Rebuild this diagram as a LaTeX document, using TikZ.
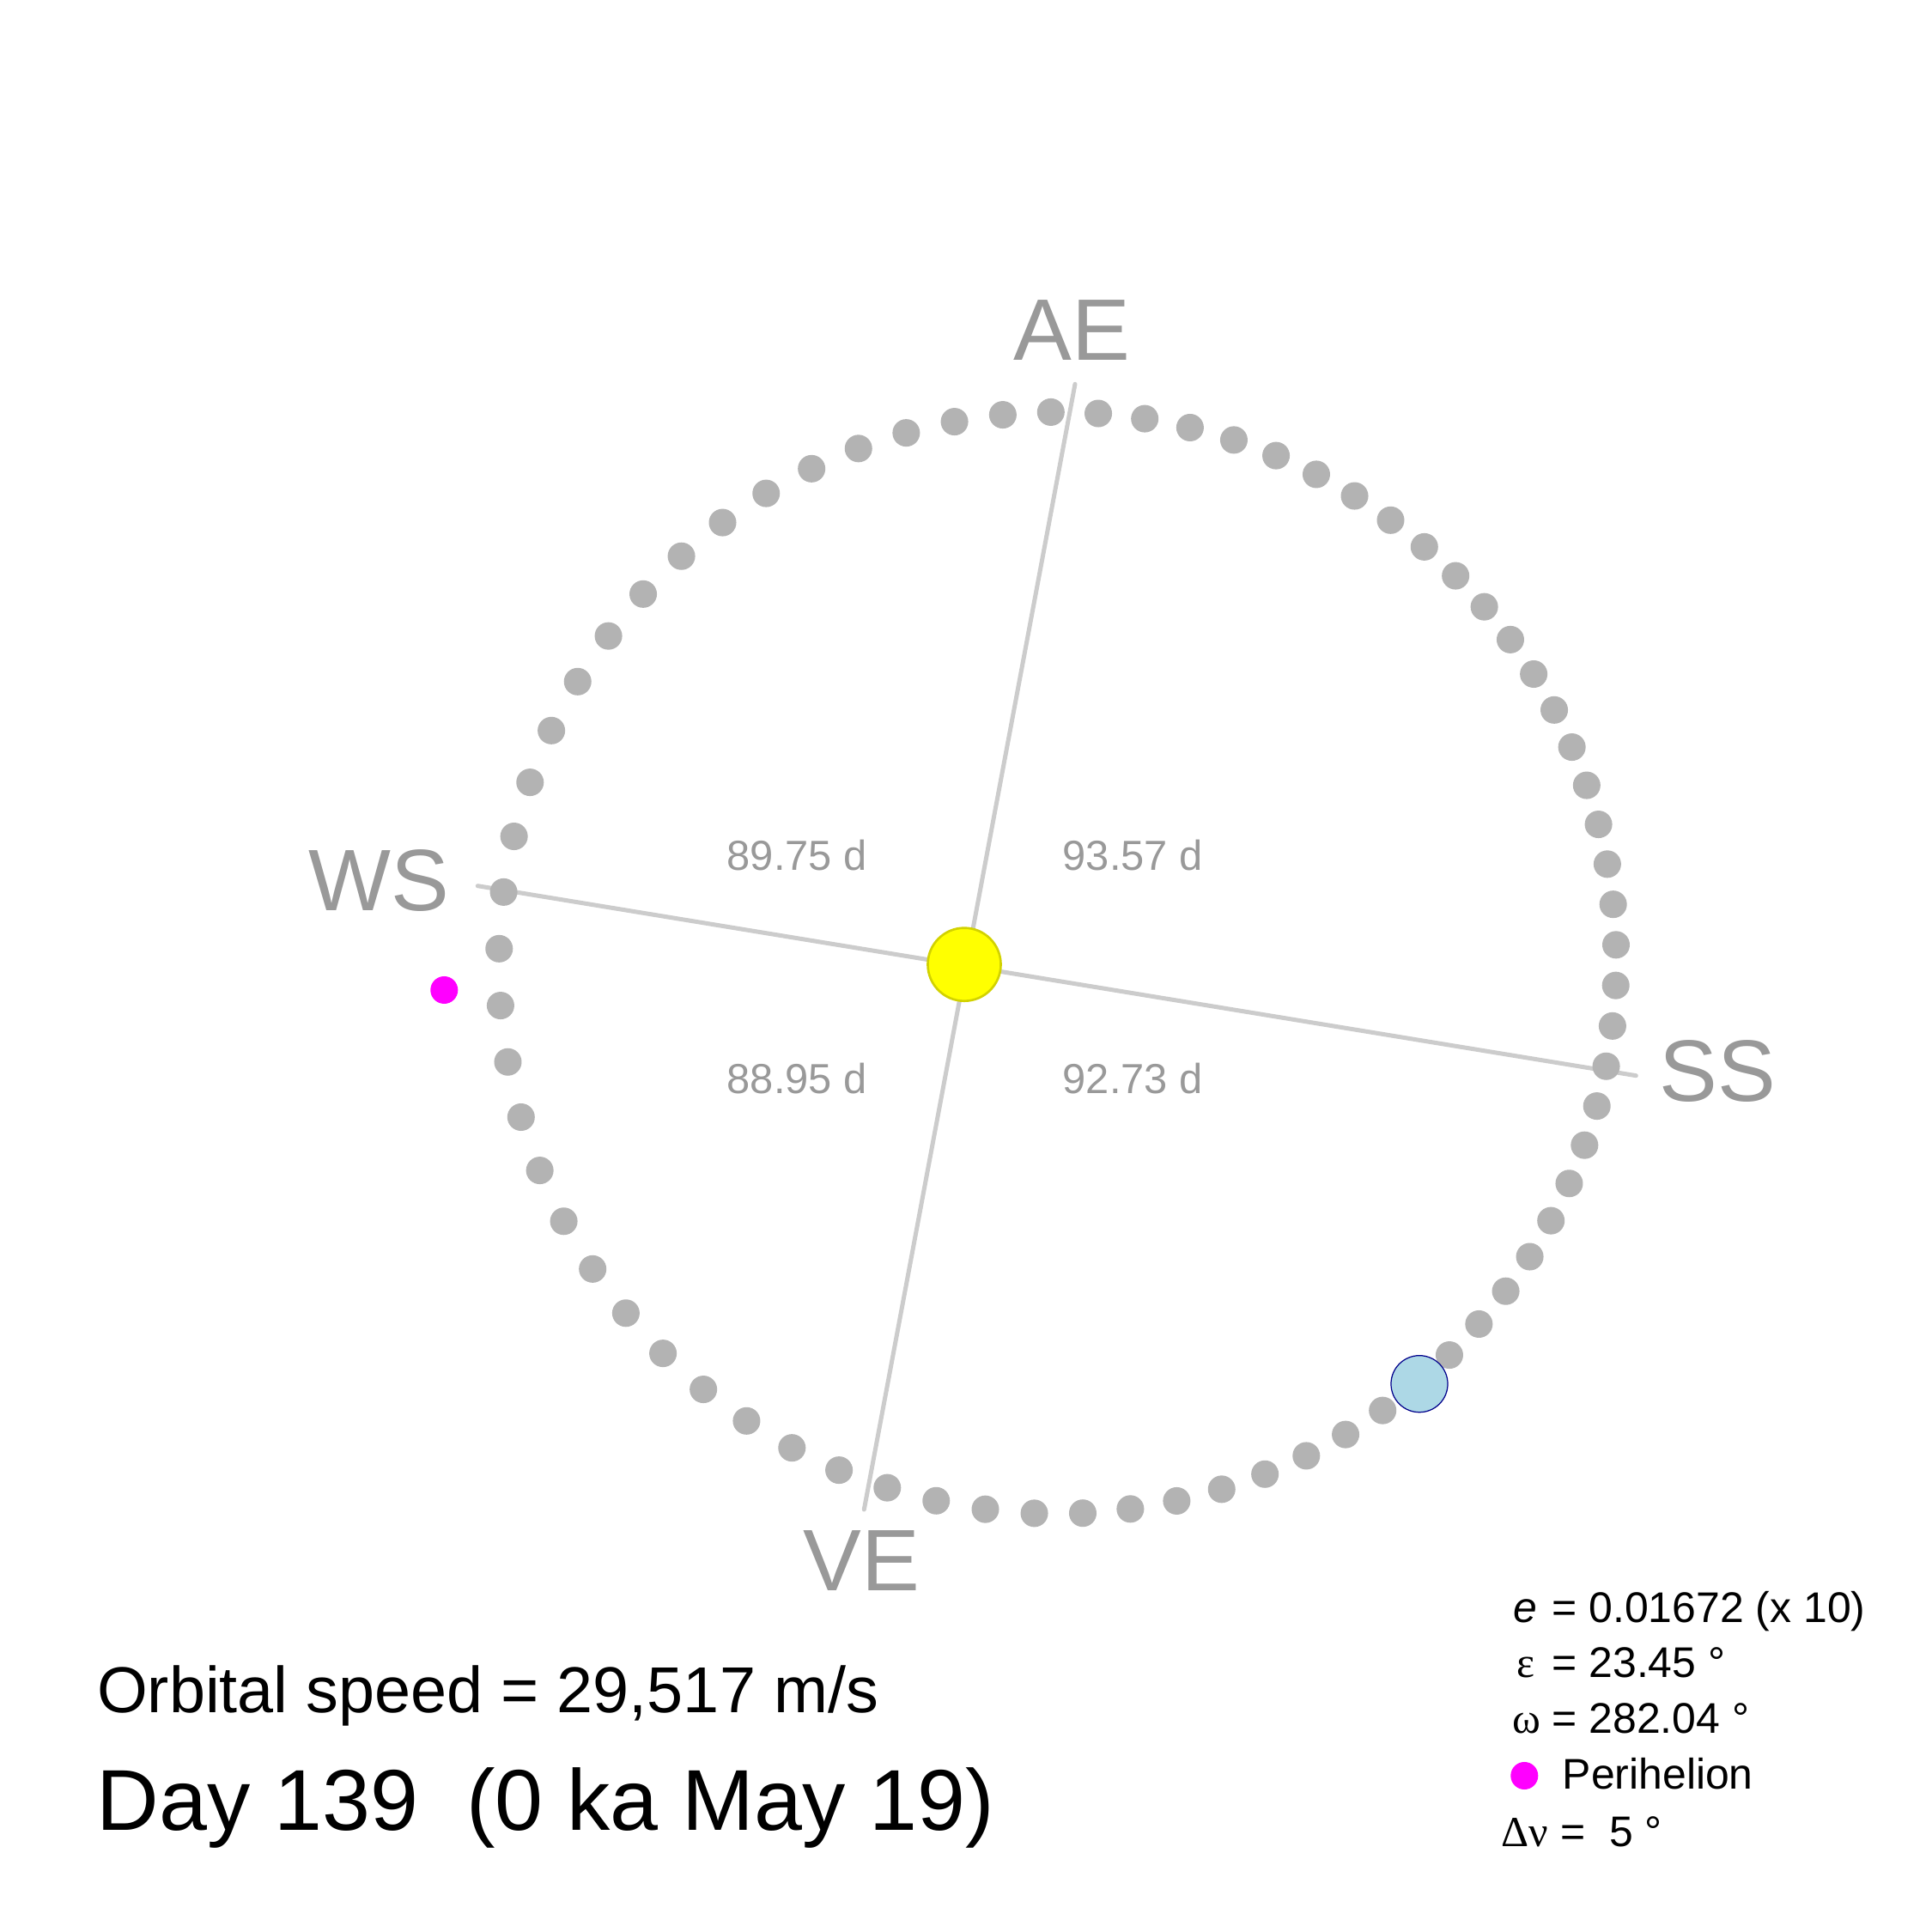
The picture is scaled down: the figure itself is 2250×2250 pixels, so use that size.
\documentclass[tikz,border=0pt]{standalone}
\usepackage{fontspec}
\setmainfont{Liberation Sans}
\newfontfamily\greekserif{Liberation Serif}
\definecolor{dotgray}{HTML}{B3B3B3}
\definecolor{linegray}{HTML}{CCCCCC}
\definecolor{labgray}{HTML}{999999}
\definecolor{sunfill}{HTML}{FFFF00}
\definecolor{sunedge}{HTML}{D2D200}
\definecolor{earthfill}{HTML}{ADD8E6}
\definecolor{earthedge}{HTML}{00008B}
\definecolor{perimag}{HTML}{FF00FF}
\tikzset{
  axisline/.style={draw=linegray, line width=1.42pt, line cap=round},
  orbitdot/.style={fill=dotgray},
  biglab/.style={font=\fontsize{28.9pt}{32pt}\selectfont, text=labgray, inner sep=0pt, anchor=base},
  daylab/.style={font=\fontsize{13.9pt}{16pt}\selectfont, text=labgray, inner sep=0pt, anchor=base},
  legtxt/.style={font=\fontsize{14.2pt}{17pt}\selectfont, text=black, inner sep=0pt, anchor=base west},
  sunball/.style={circle, fill=sunfill, draw=sunedge, line width=0.75pt, minimum size=0.85cm, inner sep=0pt},
  earthball/.style={circle, fill=earthfill, draw=earthedge, line width=0.35pt, minimum size=0.66cm, inner sep=0pt},
  peridot/.style={circle, fill=perimag, minimum size=0.32cm, inner sep=0pt},
}
\begin{document}
\begin{tikzpicture}[x=0.01cm,y=0.01cm]
\useasboundingbox (0,0) rectangle (2250,2250);
\fill[white] (0,0) rectangle (2250,2250);

% solstice / equinox axes
\coordinate (ws) at (556.3,1218.3);
\coordinate (ss) at (1905.3,997.3);
\coordinate (ae) at (1252,1802.7);
\coordinate (ve) at (1006.3,492);
\draw[axisline] (ws) -- (ss);
\draw[axisline] (ae) -- (ve);

% orbit dots: equal time steps, Kepler's equation
\def\ecc{0.1672}
\def\semia{650.7}
\pgfmathsetmacro\semib{\semia*sqrt(1-\ecc*\ecc)}
\def\phiP{182.84}
\def\Fx{1123}
\def\Fy{1123.2}
\foreach \k in {0,...,72}{
  \pgfmathsetmacro\Mm{1.3+4.9315*\k}
  \pgfmathsetmacro\Ea{\Mm+\ecc*57.29578*sin(\Mm)}
  \pgfmathsetmacro\Eb{\Mm+\ecc*57.29578*sin(\Ea)}
  \pgfmathsetmacro\Ec{\Mm+\ecc*57.29578*sin(\Eb)}
  \pgfmathsetmacro\Ed{\Mm+\ecc*57.29578*sin(\Ec)}
  \pgfmathsetmacro\Ee{\Mm+\ecc*57.29578*sin(\Ed)}
  \pgfmathsetmacro\Ef{\Mm+\ecc*57.29578*sin(\Ee)}
  \pgfmathsetmacro\Eg{\Mm+\ecc*57.29578*sin(\Ef)}
  \pgfmathsetmacro\xo{\semia*(cos(\Eg)-\ecc)}
  \pgfmathsetmacro\yo{\semib*sin(\Eg)}
  \pgfmathsetmacro\Px{\Fx+\xo*cos(\phiP)-\yo*sin(\phiP)}
  \pgfmathsetmacro\Py{\Fy+\xo*sin(\phiP)+\yo*cos(\phiP)}
  \fill[orbitdot] (\Px,\Py) circle[radius=0.16cm];
}

% Sun, Earth, perihelion marker
\node[sunball] (sun) at (1123,1126.8) {};
\node[earthball] (earth) at (1653,638.3) {};
\node[peridot] (peri) at (517.3,1097) {};

% axis labels
\node[biglab] (lAE) at (1248.5,1830.7) {AE};
\node[biglab] (lVE) at (1003,397) {VE};
\node[biglab] (lWS) at (441,1189.3) {WS};
\node[biglab] (lSS) at (2000.3,967.3) {SS};

% season lengths
\node[daylab] (d1) at (928.3,1236.7) {89.75 d};
\node[daylab] (d2) at (1319.3,1236.7) {93.57 d};
\node[daylab] (d3) at (928.3,976.7) {88.95 d};
\node[daylab] (d4) at (1319.3,976.7) {92.73 d};

% bottom-left texts
\node[inner sep=0pt, anchor=base west, font=\fontsize{21.5pt}{24pt}\selectfont] (speed) at (112.4,255) {Orbital speed = 29,517 m/s};
\node[inner sep=0pt, anchor=base west, font=\fontsize{28.6pt}{32pt}\selectfont] (day) at (112,118.3) {Day 139\ \ (0 ka May 19)};

% legend
\node[legtxt] (lge) at (1761.5,360.7) {\textit{e}};
\node[legtxt] (lgev) at (1806.8,360.7) {= 0.01672 (x 10)};
\node[legtxt] (lgeps) at (1765.5,296.3) {\greekserif ε};
\node[legtxt] (lgepsv) at (1806.8,296.3) {= 23.45 °};
\node[legtxt] (lgom) at (1760.3,231.3) {\greekserif ω};
\node[legtxt] (lgomv) at (1806.8,231.3) {= 282.04 °};
\node[peridot] (lgdot) at (1775.3,182) {};
\node[legtxt] (lgperi) at (1819,166.3) {Perihelion};
\node[legtxt] (lgnu) at (1748,99.7) {{\greekserif Δν} =\ \ 5 °};
\end{tikzpicture}
\end{document}
